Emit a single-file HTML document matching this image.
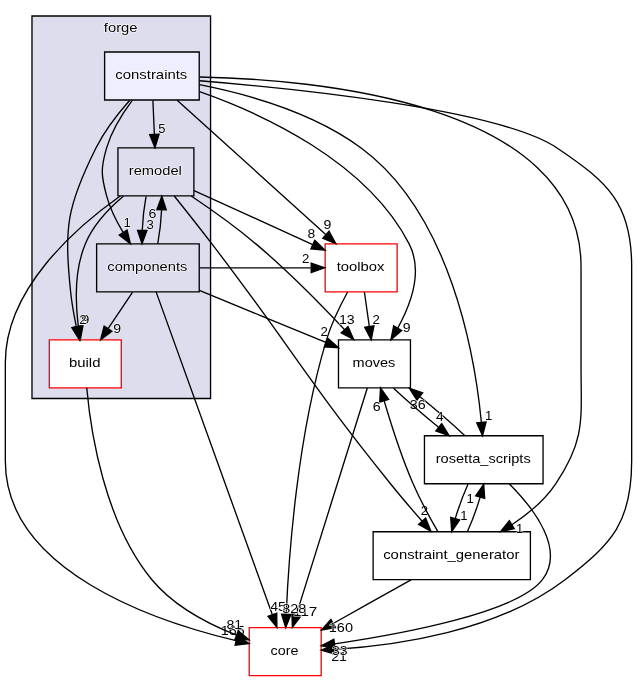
<!DOCTYPE html>
<html><head><meta charset="utf-8"><title>Directory dependency graph: core/protocols/forge/constraints</title><style>
html,body{margin:0;padding:0;background:#fff;width:637px;height:681px;overflow:hidden}
svg{display:block;will-change:transform}
text{font-family:"Liberation Sans",sans-serif;font-size:10.100px;stroke:#fff;stroke-width:0.80px;paint-order:stroke;stroke-linejoin:round}
text.d{font-size:10.000px}
text.b{stroke:#000;stroke-width:0.00px}
</style></head><body>
<svg width="637" height="681" viewBox="0 0 478 511">
<g transform="translate(4 507)">
<polygon fill="white" stroke="transparent" points="-4,4 -4,-507 474,-507 474,4 -4,4"/>
<polygon fill="#ddddee" stroke="black" points="20,-208 20,-495 154,-495 154,-208 20,-208"/>
<text class="n" text-anchor="middle" x="86.57" y="-483" textLength="25.33" lengthAdjust="spacingAndGlyphs">forge</text>
<polygon fill="none" stroke="black" points="141.5,-396 84.5,-396 84.5,-360 141.5,-360 141.5,-396"/>
<text class="n" text-anchor="middle" x="112.54" y="-375.5" textLength="39.82" lengthAdjust="spacingAndGlyphs">remodel</text>
<polygon fill="none" stroke="black" points="145.5,-324 68.5,-324 68.5,-288 145.5,-288 145.5,-324"/>
<text class="n" text-anchor="middle" x="106.55" y="-303.5" textLength="60.09" lengthAdjust="spacingAndGlyphs">components</text>
<path fill="none" stroke="black" d="M105.6,-359.7C104.14,-351.98 103.12,-342.71 102.73,-334.11"/>
<polygon fill="black" stroke="black" points="106.23,-334.05 102.57,-324.1 99.23,-334.16 106.23,-334.05"/>
<text class="d" text-anchor="middle" x="108.68" y="-335.1" textLength="5.49" lengthAdjust="spacingAndGlyphs">3</text>
<polygon fill="white" stroke="red" points="87,-252 33,-252 33,-216 87,-216 87,-252"/>
<text class="n" text-anchor="middle" x="59.55" y="-231.5" textLength="23.65" lengthAdjust="spacingAndGlyphs">build</text>
<path fill="none" stroke="black" d="M88.52,-359.77C77.6,-350.56 65.88,-338.19 60,-324 51.89,-304.43 52.47,-280.3 54.75,-262.1"/>
<polygon fill="black" stroke="black" points="58.22,-262.56 56.24,-252.15 51.3,-261.52 58.22,-262.56"/>
<text class="d" text-anchor="middle" x="60.02" y="-264.03" textLength="5.90" lengthAdjust="spacingAndGlyphs">9</text>
<polygon fill="white" stroke="red" points="294,-324 240,-324 240,-288 294,-288 294,-324"/>
<text class="n" text-anchor="middle" x="266.50" y="-303.5" textLength="35.79" lengthAdjust="spacingAndGlyphs">toolbox</text>
<path fill="none" stroke="black" d="M141.61,-364C166.74,-352.57 203.44,-335.89 230.65,-323.52"/>
<polygon fill="black" stroke="black" points="232.18,-326.67 239.84,-319.35 229.29,-320.3 232.18,-326.67"/>
<text class="d" text-anchor="middle" x="229.64" y="-328.24" textLength="5.78" lengthAdjust="spacingAndGlyphs">8</text>
<polygon fill="none" stroke="black" points="304,-252 250,-252 250,-216 304,-216 304,-252"/>
<text class="n" text-anchor="middle" x="276.59" y="-231.5" textLength="32.07" lengthAdjust="spacingAndGlyphs">moves</text>
<path fill="none" stroke="black" d="M139.49,-359.89C154.23,-349.99 172.64,-336.95 188,-324 211.98,-303.79 237.04,-278.27 254.43,-259.75"/>
<polygon fill="black" stroke="black" points="257.14,-261.98 261.4,-252.27 252.02,-257.21 257.14,-261.98"/>
<text class="d" text-anchor="middle" x="256.29" y="-264.04" textLength="11.83" lengthAdjust="spacingAndGlyphs">13</text>
<polygon fill="none" stroke="black" points="394,-108 276,-108 276,-72 394,-72 394,-108"/>
<text class="n" text-anchor="middle" x="334.67" y="-87.5" textLength="102.24" lengthAdjust="spacingAndGlyphs">constraint_generator</text>
<path fill="none" stroke="black" d="M126.76,-359.92C135.03,-349.59 145.71,-336.11 155,-324 215.68,-244.85 226.35,-221.6 289,-144 296.5,-134.71 305,-124.76 312.63,-116.03"/>
<polygon fill="black" stroke="black" points="315.37,-118.22 319.35,-108.4 310.11,-113.59 315.37,-118.22"/>
<text class="d" text-anchor="middle" x="314.55" y="-120.29" textLength="5.51" lengthAdjust="spacingAndGlyphs">2</text>
<polygon fill="white" stroke="red" points="237,-36 183,-36 183,0 237,0 237,-36"/>
<text class="n" text-anchor="middle" x="209.57" y="-15.5" textLength="21.00" lengthAdjust="spacingAndGlyphs">core</text>
<path fill="none" stroke="black" d="M86.22,-359.91C52.8,-336.25 0,-290.14 0,-235 0,-235 0,-235 0,-161 0,-78.42 112.83,-40.61 173.08,-26.3"/>
<polygon fill="black" stroke="black" points="174,-29.68 182.98,-24.05 172.45,-22.86 174,-29.68"/>
<text class="d" text-anchor="middle" x="170.61" y="-30.75" textLength="17.96" lengthAdjust="spacingAndGlyphs">165</text>
<path fill="none" stroke="black" d="M114.36,-324.1C115.83,-331.79 116.86,-341.05 117.26,-349.67"/>
<polygon fill="black" stroke="black" points="113.76,-349.76 117.43,-359.7 120.76,-349.64 113.76,-349.76"/>
<text class="d" text-anchor="middle" x="110.41" y="-343.71" textLength="5.92" lengthAdjust="spacingAndGlyphs">6</text>
<path fill="none" stroke="black" d="M95.38,-287.7C89.86,-279.47 83.15,-269.48 77.07,-260.42"/>
<polygon fill="black" stroke="black" points="79.96,-258.46 71.48,-252.1 74.15,-262.36 79.96,-258.46"/>
<text class="d" text-anchor="middle" x="83.85" y="-257.36" textLength="5.90" lengthAdjust="spacingAndGlyphs">9</text>
<path fill="none" stroke="black" d="M145.75,-306C173.59,-306 201.43,-306 229.27,-306"/>
<polygon fill="black" stroke="black" points="229.53,-309.5 239.53,-306 229.53,-302.5 229.53,-309.5"/>
<text class="d" text-anchor="middle" x="225.35" y="-309.84" textLength="5.51" lengthAdjust="spacingAndGlyphs">2</text>
<path fill="none" stroke="black" d="M145.58,-289.12C174.06,-277.39 212.57,-261.53 240.53,-250.02"/>
<polygon fill="black" stroke="black" points="242.04,-253.18 249.95,-246.14 239.37,-246.71 242.04,-253.18"/>
<text class="d" text-anchor="middle" x="239.22" y="-254.67" textLength="5.51" lengthAdjust="spacingAndGlyphs">2</text>
<path fill="none" stroke="black" d="M113.13,-287.97C130.38,-240.09 179.37,-104.06 200.31,-45.9"/>
<polygon fill="black" stroke="black" points="203.67,-46.9 203.77,-36.31 197.09,-44.53 203.67,-46.9"/>
<text class="d" text-anchor="middle" x="204.59" y="-48.74" textLength="11.77" lengthAdjust="spacingAndGlyphs">45</text>
<path fill="none" stroke="black" d="M61.09,-215.95C63.94,-184.19 74.13,-115.26 110,-72 126.42,-52.19 152.21,-38.78 173.48,-30.41"/>
<polygon fill="black" stroke="black" points="174.74,-33.67 182.89,-26.91 172.3,-27.11 174.74,-33.67"/>
<text class="d" text-anchor="middle" x="171.82" y="-35.09" textLength="11.83" lengthAdjust="spacingAndGlyphs">81</text>
<polygon fill="#eeeeff" stroke="black" points="145.5,-468 74.5,-468 74.5,-432 145.5,-432 145.5,-468"/>
<text class="n" text-anchor="middle" x="109.55" y="-447.5" textLength="54.05" lengthAdjust="spacingAndGlyphs">constraints</text>
<path fill="none" stroke="black" d="M110.74,-431.7C111.07,-423.98 111.47,-414.71 111.84,-406.11"/>
<polygon fill="black" stroke="black" points="115.34,-406.25 112.27,-396.1 108.34,-405.95 115.34,-406.25"/>
<text class="d" text-anchor="middle" x="117.53" y="-407.46" textLength="5.39" lengthAdjust="spacingAndGlyphs">5</text>
<path fill="none" stroke="black" d="M95.25,-431.63C87.91,-421.85 79.81,-409.01 76,-396 71.5,-380.65 71.82,-375.44 76,-360 78.58,-350.48 83.34,-340.92 88.38,-332.59"/>
<polygon fill="black" stroke="black" points="91.38,-334.39 93.85,-324.09 85.49,-330.6 91.38,-334.39"/>
<text class="d" text-anchor="middle" x="91.32" y="-336.45" textLength="5.46" lengthAdjust="spacingAndGlyphs">1</text>
<path fill="none" stroke="black" d="M93.21,-431.64C84.57,-421.86 74.52,-409.02 68,-396 46.19,-352.42 44.02,-336.48 49,-288 49.88,-279.46 51.53,-270.26 53.29,-261.96"/>
<polygon fill="black" stroke="black" points="56.74,-262.57 55.54,-252.05 49.92,-261.03 56.74,-262.57"/>
<text class="d" text-anchor="middle" x="58.14" y="-264.21" textLength="5.51" lengthAdjust="spacingAndGlyphs">2</text>
<path fill="none" stroke="black" d="M128.94,-431.87C156.76,-406.71 208.78,-359.65 240.42,-331.04"/>
<polygon fill="black" stroke="black" points="242.93,-333.49 247.99,-324.19 238.23,-328.3 242.93,-333.49"/>
<text class="d" text-anchor="middle" x="241.68" y="-335.51" textLength="5.90" lengthAdjust="spacingAndGlyphs">9</text>
<path fill="none" stroke="black" d="M145.73,-438.17C192.11,-421.92 270.91,-386.28 303,-324 313.34,-303.92 304.54,-279.12 294.47,-260.8"/>
<polygon fill="black" stroke="black" points="297.45,-258.96 289.34,-252.13 291.42,-262.52 297.45,-258.96"/>
<text class="d" text-anchor="middle" x="301.24" y="-258.11" textLength="5.90" lengthAdjust="spacingAndGlyphs">9</text>
<polygon fill="none" stroke="black" points="403.5,-180 314.5,-180 314.5,-144 403.5,-144 403.5,-180"/>
<text class="n" text-anchor="middle" x="358.59" y="-159.5" textLength="71.35" lengthAdjust="spacingAndGlyphs">rosetta_scripts</text>
<path fill="none" stroke="black" d="M145.65,-443.44C179.51,-436.76 230.53,-422.89 267,-396 334.17,-346.46 352.34,-240.25 357.22,-190.18"/>
<polygon fill="black" stroke="black" points="360.72,-190.37 358.09,-180.11 353.74,-189.77 360.72,-190.37"/>
<text class="d" text-anchor="middle" x="362.73" y="-191.7" textLength="5.46" lengthAdjust="spacingAndGlyphs">1</text>
<path fill="none" stroke="black" d="M145.69,-449.21C229.53,-447.64 432,-431.03 432,-307 432,-307 432,-307 432,-233 432,-192.55 435.58,-177.56 413,-144 404.68,-131.64 392.42,-121.37 380.08,-113.26"/>
<polygon fill="black" stroke="black" points="381.91,-110.28 371.56,-108 378.23,-116.24 381.91,-110.28"/>
<text class="d" text-anchor="middle" x="385.96" y="-107.26" textLength="5.46" lengthAdjust="spacingAndGlyphs">1</text>
<path fill="none" stroke="black" d="M145.62,-446.41C216.15,-440.7 370.51,-425.17 414,-396 452.81,-369.96 470,-353.73 470,-307 470,-307 470,-307 470,-161 470,-115.63 456.03,-99.57 420,-72 368.99,-32.97 292.56,-22.43 247.34,-19.74"/>
<polygon fill="black" stroke="black" points="247.26,-16.23 237.1,-19.23 246.91,-23.22 247.26,-16.23"/>
<text class="d" text-anchor="middle" x="250.44" y="-11.07" textLength="11.85" lengthAdjust="spacingAndGlyphs">21</text>
<path fill="none" stroke="black" d="M344.86,-180.1C335.49,-188.89 322.96,-199.73 311.18,-209.31"/>
<polygon fill="black" stroke="black" points="308.81,-206.72 303.19,-215.7 313.18,-212.19 308.81,-206.72"/>
<text class="d" text-anchor="middle" x="309.50" y="-199.76" textLength="11.93" lengthAdjust="spacingAndGlyphs">36</text>
<path fill="none" stroke="black" d="M347.15,-143.7C343.67,-135.9 340.23,-126.51 337.61,-117.83"/>
<polygon fill="black" stroke="black" points="340.97,-116.83 334.97,-108.1 334.22,-118.67 340.97,-116.83"/>
<text class="d" text-anchor="middle" x="344.15" y="-117.06" textLength="5.46" lengthAdjust="spacingAndGlyphs">1</text>
<path fill="none" stroke="black" d="M378.26,-143.83C396.98,-125.05 420.24,-94.62 403,-72 384.18,-47.31 297.6,-31.27 247.02,-23.83"/>
<polygon fill="black" stroke="black" points="247.51,-20.36 237.12,-22.41 246.52,-27.29 247.51,-20.36"/>
<text class="d" text-anchor="middle" x="251.03" y="-15.56" textLength="11.75" lengthAdjust="spacingAndGlyphs">33</text>
<path fill="none" stroke="black" d="M291.35,-215.7C300.77,-206.88 313.31,-196.03 325.09,-186.47"/>
<polygon fill="black" stroke="black" points="327.44,-189.08 333.07,-180.1 323.07,-183.61 327.44,-189.08"/>
<text class="d" text-anchor="middle" x="325.95" y="-191.04" textLength="5.72" lengthAdjust="spacingAndGlyphs">4</text>
<path fill="none" stroke="black" d="M271.63,-215.85C259.99,-178.68 232.37,-90.44 218.4,-45.82"/>
<polygon fill="black" stroke="black" points="221.72,-44.73 215.4,-36.23 215.04,-46.82 221.72,-44.73"/>
<text class="d" text-anchor="middle" x="225.03" y="-44.81" textLength="18.14" lengthAdjust="spacingAndGlyphs">117</text>
<path fill="none" stroke="black" d="M269.47,-287.7C270.57,-279.98 271.9,-270.71 273.13,-262.11"/>
<polygon fill="black" stroke="black" points="276.61,-262.5 274.56,-252.1 269.68,-261.51 276.61,-262.5"/>
<text class="d" text-anchor="middle" x="278.33" y="-263.96" textLength="5.51" lengthAdjust="spacingAndGlyphs">2</text>
<path fill="none" stroke="black" d="M256.85,-287.92C251.3,-277.81 244.8,-264.56 241,-252 219.13,-179.81 212.68,-90.4 210.78,-46.27"/>
<polygon fill="black" stroke="black" points="214.27,-45.92 210.39,-36.06 207.28,-46.19 214.27,-45.92"/>
<text class="d" text-anchor="middle" x="216.87" y="-46.91" textLength="18.08" lengthAdjust="spacingAndGlyphs">328</text>
<path fill="none" stroke="black" d="M324.49,-108.26C318.57,-118.43 311.32,-131.68 306,-144 297.22,-164.33 289.57,-188.23 284.33,-206.14"/>
<polygon fill="black" stroke="black" points="280.92,-205.35 281.54,-215.92 287.65,-207.27 280.92,-205.35"/>
<text class="d" text-anchor="middle" x="278.73" y="-198.61" textLength="5.92" lengthAdjust="spacingAndGlyphs">6</text>
<path fill="none" stroke="black" d="M346.76,-108.1C350.24,-115.88 353.69,-125.26 356.32,-133.95"/>
<polygon fill="black" stroke="black" points="352.97,-134.97 358.98,-143.7 359.72,-133.13 352.97,-134.97"/>
<text class="d" text-anchor="middle" x="348.78" y="-129.76" textLength="5.46" lengthAdjust="spacingAndGlyphs">1</text>
<path fill="none" stroke="black" d="M304.42,-71.88C286.78,-62 264.5,-49.52 246.02,-39.17"/>
<polygon fill="black" stroke="black" points="247.72,-36.11 237.28,-34.28 244.3,-42.22 247.72,-36.11"/>
<text class="d" text-anchor="middle" x="251.80" y="-32.89" textLength="18.14" lengthAdjust="spacingAndGlyphs">160</text>
</g>
</svg>
</body></html>
